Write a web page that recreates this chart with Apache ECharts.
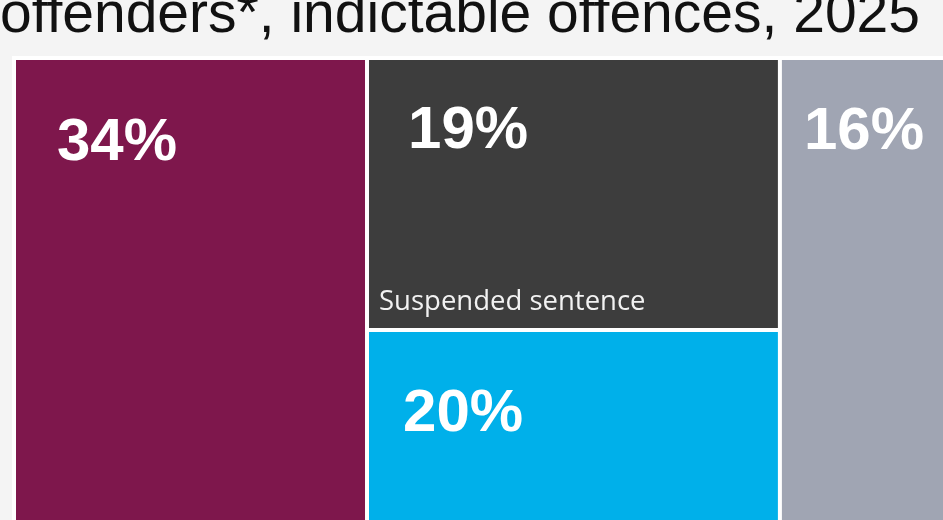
<!DOCTYPE html>
<html>
<head>
<meta charset="utf-8">
<script src="https://cdn.jsdelivr.net/npm/echarts@6/dist/echarts.min.js"></script>
<style>
  html, body { margin: 0; padding: 0; background: #f4f4f4; }
  #chart { width: 943px; height: 520px; }
</style>
</head>
<body>
<div id="chart"></div>
<script>
// 数据
var categories = ['Immediate custody', 'Suspended sentence', 'Community sentence', 'Fine'];
var shares = [33.6, 19.2, 20.1, 16.0];
// 哪几块放在同一列里
var columns = [[0], [1, 2], [3]];
var colors = ['#7e174c', '#3d3d3d', '#00b0ea', '#a0a5b3'];

(function () {
  var myChart = echarts.init(document.getElementById('chart'));

  // 百分比文字的位置（相对每块左上角）
  var pctPos = [[41, 53], [39, 41], [34, 52], [22, 42]];

  function leaf(i, withPct) {
    var item = {
      name: categories[i],
      value: shares[i],
      itemStyle: { color: withPct ? colors[i] : 'transparent' }
    };
    if (withPct) {
      item.label = { position: pctPos[i] };
    }
    return item;
  }

  function buildTree(withPct) {
    return columns.map(function (col, k) {
      if (col.length === 1) return leaf(col[0], withPct);
      var kids = col.map(function (i) { return leaf(i, withPct); });
      return {
        name: 'col' + k,
        value: kids.reduce(function (s, d) { return s + d.value; }, 0),
        children: kids
      };
    });
  }

  var box = { left: 12, top: 56, width: 938, height: 561 };

  var option = {
    backgroundColor: '#f4f4f4',
    title: {
      text: 'offenders*, indictable offences, 2025',
      right: 23,
      top: -12,
      padding: 0,
      textStyle: {
        fontFamily: 'Liberation Sans',
        fontSize: 57,
        fontWeight: 'normal',
        color: '#111'
      }
    },
    series: [
      {
        type: 'treemap',
        left: box.left,
        top: box.top,
        width: box.width,
        height: box.height,
        roam: false,
        nodeClick: false,
        sort: false,
        squareRatio: 0.01,
        breadcrumb: { show: false },
        label: {
          show: true,
          distance: 0,
          padding: 0,
          fontFamily: 'Liberation Sans',
          fontSize: 60,
          fontWeight: 'bold',
          color: '#fff',
          formatter: function (p) {
            return Math.round(p.value) + '%';
          }
        },
        levels: [
          { itemStyle: { borderWidth: 4, gapWidth: 4, borderColor: '#fff' } },
          { itemStyle: { borderWidth: 0, gapWidth: 4, borderColor: '#fff' } },
          { itemStyle: { borderWidth: 0, gapWidth: 0, borderColor: '#fff' } }
        ],
        data: buildTree(true)
      },
      {
        // 第二层只画类别名（在每块底部）
        type: 'treemap',
        silent: true,
        left: box.left,
        top: box.top,
        width: box.width,
        height: box.height,
        roam: false,
        nodeClick: false,
        sort: false,
        squareRatio: 0.01,
        breadcrumb: { show: false },
        label: {
          show: true,
          position: 'insideBottomLeft',
          distance: 0,
          padding: [0, 0, 12, 10],
          fontFamily: 'Open Sans',
          fontSize: 27.5,
          color: '#f2f2f2',
          formatter: '{b}'
        },
        levels: [
          { itemStyle: { borderWidth: 4, gapWidth: 4, borderColor: 'transparent', color: 'transparent' } },
          { itemStyle: { borderWidth: 0, gapWidth: 4, borderColor: 'transparent', color: 'transparent' } },
          { itemStyle: { borderWidth: 0, gapWidth: 0, borderColor: 'transparent', color: 'transparent' } }
        ],
        data: buildTree(false)
      }
    ]
  };

  myChart.setOption(option);
  window.addEventListener('resize', function () {
    myChart.resize();
  });
})();
</script>
</body>
</html>
